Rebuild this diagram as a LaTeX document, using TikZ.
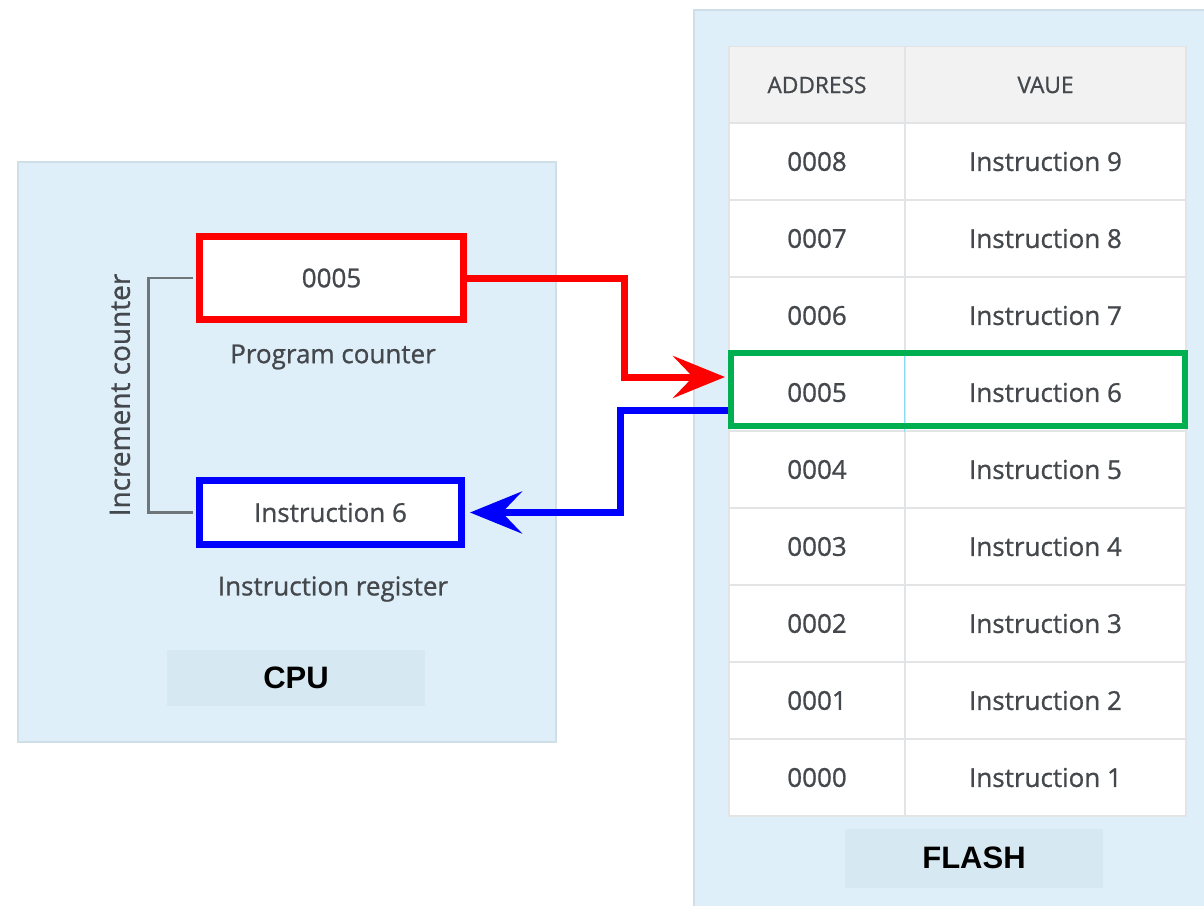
\documentclass[tikz,border=0pt]{standalone}
\usepackage{fontspec}
\setmainfont{Open Sans}
\newfontfamily\midfont[FakeBold=0.9]{Open Sans}
\newfontfamily\tagfont{Liberation Sans}
\usetikzlibrary{positioning,arrows.meta}

\definecolor{panelblue}{RGB}{222,239,250}
\definecolor{panelline}{RGB}{208,222,232}
\definecolor{tagblue}{RGB}{214,233,242}
\definecolor{txtgray}{RGB}{68,72,76}
\definecolor{gridgray}{RGB}{226,228,230}
\definecolor{headgray}{RGB}{242,242,242}
\definecolor{hlgreen}{RGB}{0,176,80}
\definecolor{bracketgray}{RGB}{110,118,122}

\begin{document}
\begin{tikzpicture}[x=1pt, y=-1pt,
  panel/.style={rectangle, draw=panelline, fill=panelblue, line width=1.5pt},
  tag/.style={rectangle, fill=tagblue, minimum width=258pt, minimum height=56pt, font=\tagfont\bfseries\fontsize{31}{36}\selectfont},
  reg/.style={rectangle, fill=white, line width=7pt, minimum width=264pt, minimum height=83pt, text=txtgray, font=\midfont\fontsize{26}{30}\selectfont},
  caption/.style={text=txtgray, font=\midfont\fontsize{26}{30}\selectfont},
  addrcell/.style={rectangle, draw=gridgray, fill=white, line width=1.5pt, minimum width=176pt, minimum height=77pt, text=txtgray, font=\midfont\fontsize{26}{30}\selectfont},
  valcell/.style={addrcell, minimum width=281pt},
  headcell/.style={fill=headgray, font=\midfont\fontsize{22.7}{26}\selectfont},
  highlight/.style={rectangle, draw=hlgreen, line width=6pt, minimum width=454pt, minimum height=73pt},
  arrow/.style={-{Stealth[length=52pt, width=42pt, inset=20pt]}, line width=7pt},
  bracket/.style={draw=bracketgray, line width=2.5pt}
]
\useasboundingbox (0,0) rectangle (1204,905);

% --- PANELS ---
\node[panel, minimum width=538pt, minimum height=580pt] (cpubox) at (287,452) {};
\node[panel, minimum width=520pt, minimum height=905pt] (flashbox) at (954,462.5) {};

\node[tag] (cpu) at (296,677.5) {CPU};
\node[tag, minimum height=59pt] (flash) at (974,858) {FLASH};

% --- FLASH TABLE ---
\node[addrcell, headcell] (addrhead) at (817,85) {ADDRESS};
\node[valcell, headcell] (valhead) at (1045.5,85) {VAUE};

\foreach \i in {0,...,8} {
  \pgfmathtruncatemacro{\a}{8-\i}
  \pgfmathtruncatemacro{\v}{9-\i}
  \node[addrcell] (addr\i) at (817,{161.5+77*\i}) {000\a};
  \node[valcell] (val\i) at (1045.5,{161.5+77*\i}) {Instruction \v};
}
\draw[cyan!45, line width=1.5pt] (val3.north west) -- (val3.south west);

% current row
\node[highlight] (hl) at (958,389.5) {};

% --- CPU REGISTERS ---
\node[reg, draw=red] (pc) at (331.5,278) {0005};
\node[caption] (pclabel) at (333,357) {Program counter};

\node[reg, draw=blue, minimum width=262pt, minimum height=64pt] (ir) at (330.5,512.5) {Instruction 6};
\node[caption] (irlabel) at (333,589) {Instruction register};

% increment loop
\draw[bracket] ([xshift=-3.5pt]pc.west) -- ++(-44,0) |- ([xshift=-3.5pt]ir.west);
\node[caption, rotate=90, font=\midfont\fontsize{28}{32}\selectfont] (inc) at (120,395) {Increment counter};

% --- FETCH / LOAD ---
\draw[arrow, red, shorten >=3pt] (pc.east) -- ++(157,0) |- ([yshift=12.5pt]hl.west);
\draw[arrow, blue, shorten >=5pt] ([yshift=-21pt]hl.west) -- ++(-108,0) |- (ir.east);

\end{tikzpicture}
\end{document}
